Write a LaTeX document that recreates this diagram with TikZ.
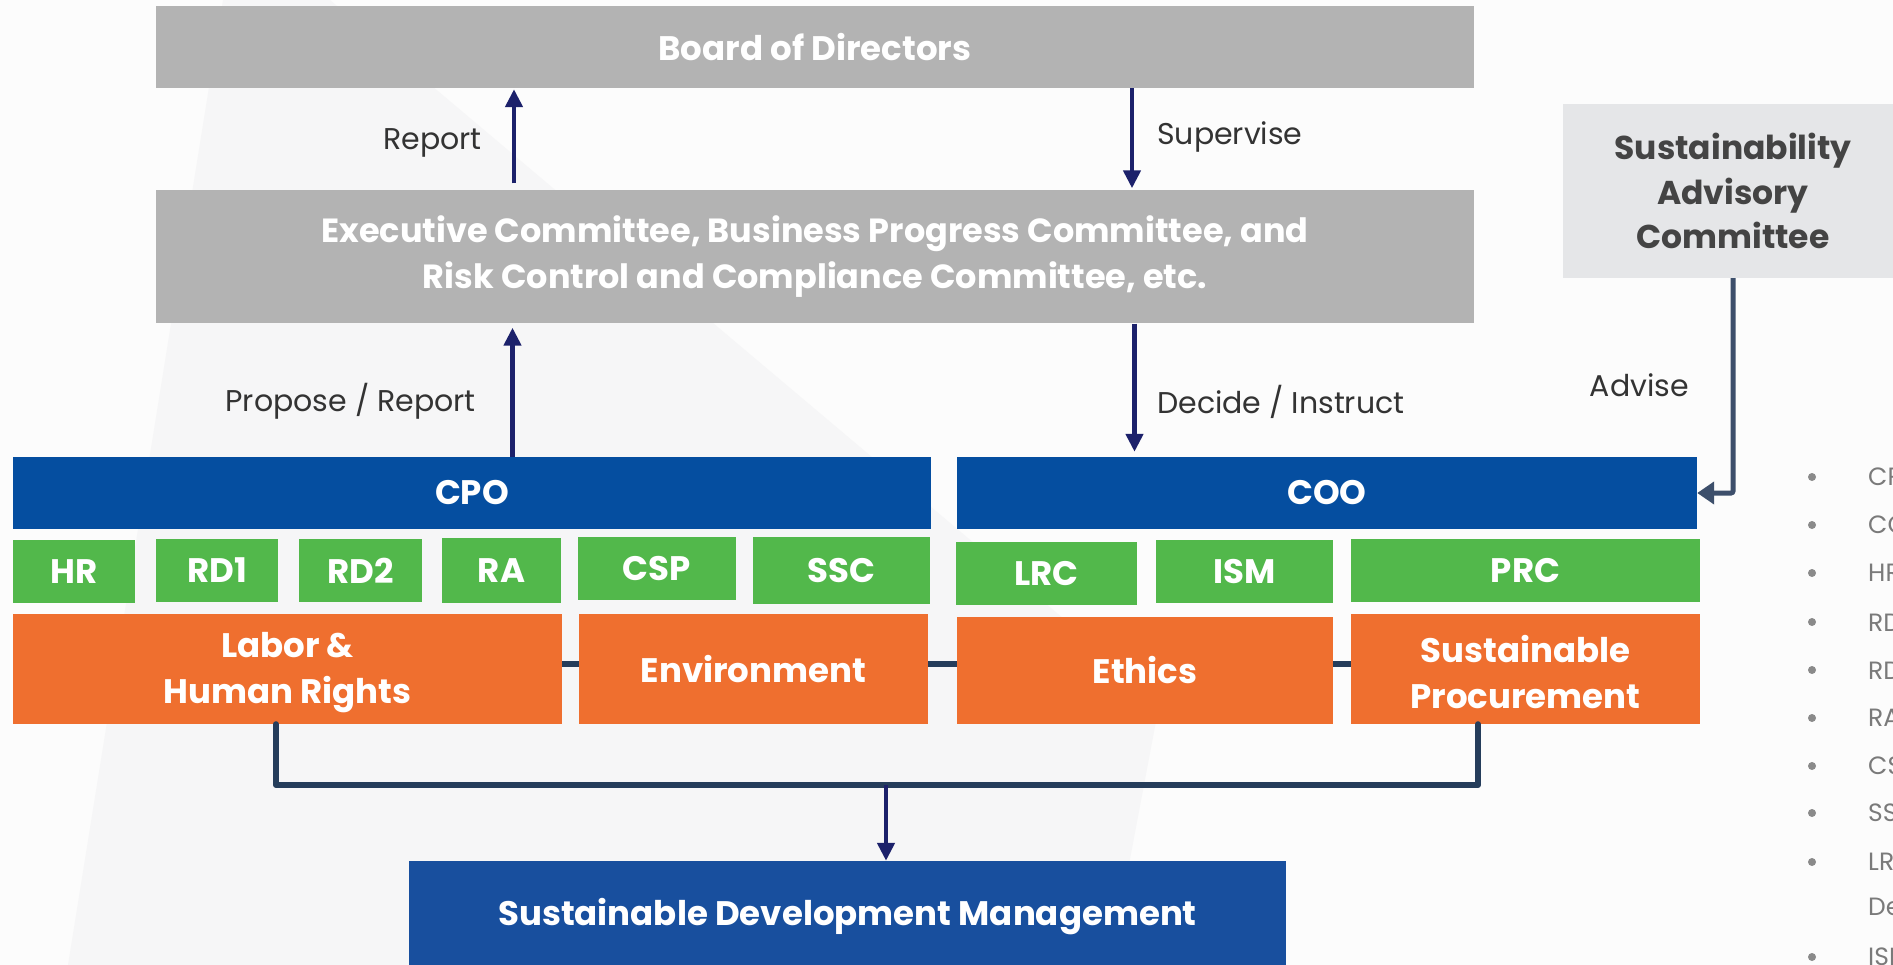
\documentclass[tikz,border=0pt]{standalone}
\usepackage{fontspec}
\setmainfont{Poppins}
\usetikzlibrary{arrows.meta}
\definecolor{bggray}{HTML}{FCFCFC}
\definecolor{bgshade}{HTML}{F6F6F7}
\definecolor{boxgray}{HTML}{B3B3B3}
\definecolor{sacgray}{HTML}{E5E6E8}
\definecolor{sactext}{HTML}{444444}
\definecolor{blueA}{HTML}{054EA0}
\definecolor{blueB}{HTML}{184F9E}
\definecolor{greenA}{HTML}{52B84B}
\definecolor{orangeA}{HTML}{EF6F2F}
\definecolor{navy}{HTML}{1C216B}
\definecolor{slate}{HTML}{3D4F6B}
\definecolor{busline}{HTML}{253D5B}
\definecolor{labeltext}{HTML}{333333}
\definecolor{bullettext}{HTML}{7A7A7A}
\definecolor{bulletdot}{HTML}{8A8A8A}
\tikzset{
  box/.style={rectangle, inner sep=0pt, text=white, align=center,
    font=\bfseries\fontsize{34}{46}\selectfont},
  graybox/.style={box, fill=boxgray},
  bluebox/.style={box, fill=blueA},
  greenbox/.style={box, fill=greenA},
  orangebox/.style={box, fill=orangeA},
  lbl/.style={inner sep=0pt, text=labeltext, font=\fontsize{30}{34}\selectfont},
  arr/.style={draw=navy, line width=4.5pt, -{Triangle[length=18pt,width=17pt]}},
  conn/.style={draw=busline, line width=6pt},
  bul/.style={inner sep=0pt, anchor=west, text=bullettext, font=\fontsize{25}{30}\selectfont},
}
\begin{document}
\begin{tikzpicture}[x=1pt,y=-1pt]
\useasboundingbox (0,0) rectangle (1893,965);
\clip (0,0) rectangle (1893,965);
\fill[bggray] (0,0) rectangle (1893,965);
\fill[bgshade] (223,0) -- (68,965) -- (1110,965) -- (1160,700) -- (330,0) -- cycle;

% top boxes
\node[graybox, minimum width=1318pt, minimum height=82pt] (board) at (815,47) {Board of Directors};
\node[graybox, minimum width=1318pt, minimum height=133pt, font=\bfseries\fontsize{33.5}{46}\selectfont] (exec) at (815,257)
  {Executive Committee, Business Progress Committee, and\\Risk Control and Compliance Committee, etc.};
\node[box, fill=sacgray, text=sactext, minimum width=340pt, minimum height=174pt,
  font=\bfseries\fontsize{33}{44.5}\selectfont] (sac) at (1733,191)
  {Sustainability\\Advisory\\Committee};

% level boxes
\node[bluebox, minimum width=918pt, minimum height=72pt] (cpo) at (472,493) {CPO};
\node[bluebox, minimum width=740pt, minimum height=72pt] (coo) at (1327,493) {COO};

\node[greenbox, minimum width=122pt, minimum height=63pt] (hr) at (74,571.5) {HR};
\node[greenbox, minimum width=122pt, minimum height=63pt] (rd1) at (217,570.5) {RD1};
\node[greenbox, minimum width=123pt, minimum height=63pt] (rd2) at (360.5,570.5) {RD2};
\node[greenbox, minimum width=119pt, minimum height=65pt] (ra) at (501.5,570.5) {RA};
\node[greenbox, minimum width=158pt, minimum height=63pt] (csp) at (657,568.5) {CSP};
\node[greenbox, minimum width=177pt, minimum height=67pt] (ssc) at (841.5,570.5) {SSC};
\node[greenbox, minimum width=181pt, minimum height=63pt] (lrc) at (1046.5,573.5) {LRC};
\node[greenbox, minimum width=177pt, minimum height=63pt] (ism) at (1244.5,571.5) {ISM};
\node[greenbox, minimum width=349pt, minimum height=63pt] (prc) at (1525.5,570.5) {PRC};

\node[orangebox, minimum width=549pt, minimum height=110pt] (labor) at (287.5,669) {\rule{0pt}{33pt}Labor \&\\Human Rights};
\node[orangebox, minimum width=349pt, minimum height=110pt] (env) at (753.5,669) {Environment};
\node[orangebox, minimum width=376pt, minimum height=107pt] (ethics) at (1145,670.5) {Ethics};
\node[orangebox, minimum width=349pt, minimum height=110pt] (sp) at (1525.5,669) {\rule{0pt}{33pt}Sustainable\\Procurement};

\node[box, fill=blueB, minimum width=877pt, minimum height=112pt] (sdm) at (847.5,917) {Sustainable Development Management};

% coordinates for connector lines
\coordinate (xrep) at (514,0);
\coordinate (xsup) at (1132,0);
\coordinate (xdec) at (1134.5,0);
\coordinate (xpro) at (512.5,0);
\coordinate (xadv) at (1733,0);
\coordinate (ylink) at (0,664);
\coordinate (busL) at (276,785);
\coordinate (busR) at (1478,785);
\coordinate (xsdm) at (886,0);

% arrows
\draw[arr, shorten <=7pt, shorten >=1pt] (exec.north -| xrep) -- (board.south -| xrep);
\draw[arr, shorten >=2pt] (board.south -| xsup) -- (exec.north -| xsup);
\draw[arr, shorten >=5pt] (exec.south -| xdec) -- (coo.north -| xdec);
\draw[arr, shorten >=4pt] (cpo.north -| xpro) -- (exec.south -| xpro);
\draw[draw=slate, line width=5pt, rounded corners=2pt, -{Triangle[length=17pt,width=22pt]}]
  (sac.south -| xadv) |- (coo.east);

% links between orange boxes
\draw[conn] (labor.east |- ylink) -- (env.west |- ylink);
\draw[conn] (env.east |- ylink) -- (ethics.west |- ylink);
\draw[conn] (ethics.east |- ylink) -- (sp.west |- ylink);
\draw[conn, line cap=round, line join=round] (labor.south -| busL) -- (busL) -- (busR) -- (sp.south -| busR);
\draw[arr, shorten >=0pt] (busL -| xsdm) -- (sdm.north -| xsdm);

% labels
\node[lbl, anchor=east] (lrep) at (482,143) {Report};
\node[lbl, anchor=west] (lsup) at (1157,137) {Supervise};
\node[lbl, anchor=east] (lpro) at (476,401) {Propose / Report};
\node[lbl, anchor=west] (ldec) at (1157,402) {Decide / Instruct};
\node[lbl, anchor=east] (ladv) at (1689,385) {Advise};

% bullet list, cut off at the right edge as in the reference
\foreach \yy/\tt/\nm in {477/CPO/b1, 525/COO/b2, 573/HR/b3, 622/RD1/b4, 670/RD2/b5, 718/RA/b6, 766/CSP/b7, 813/SSC/b8, 862/LRC/b9, 957/ISM/b11}{
  \fill[bulletdot] (1812,\yy) circle (4pt);
  \node[bul] (\nm) at (1868,\yy) {\tt};
}
\node[bul] (b10) at (1868,910) {Department};
\end{tikzpicture}
\end{document}
